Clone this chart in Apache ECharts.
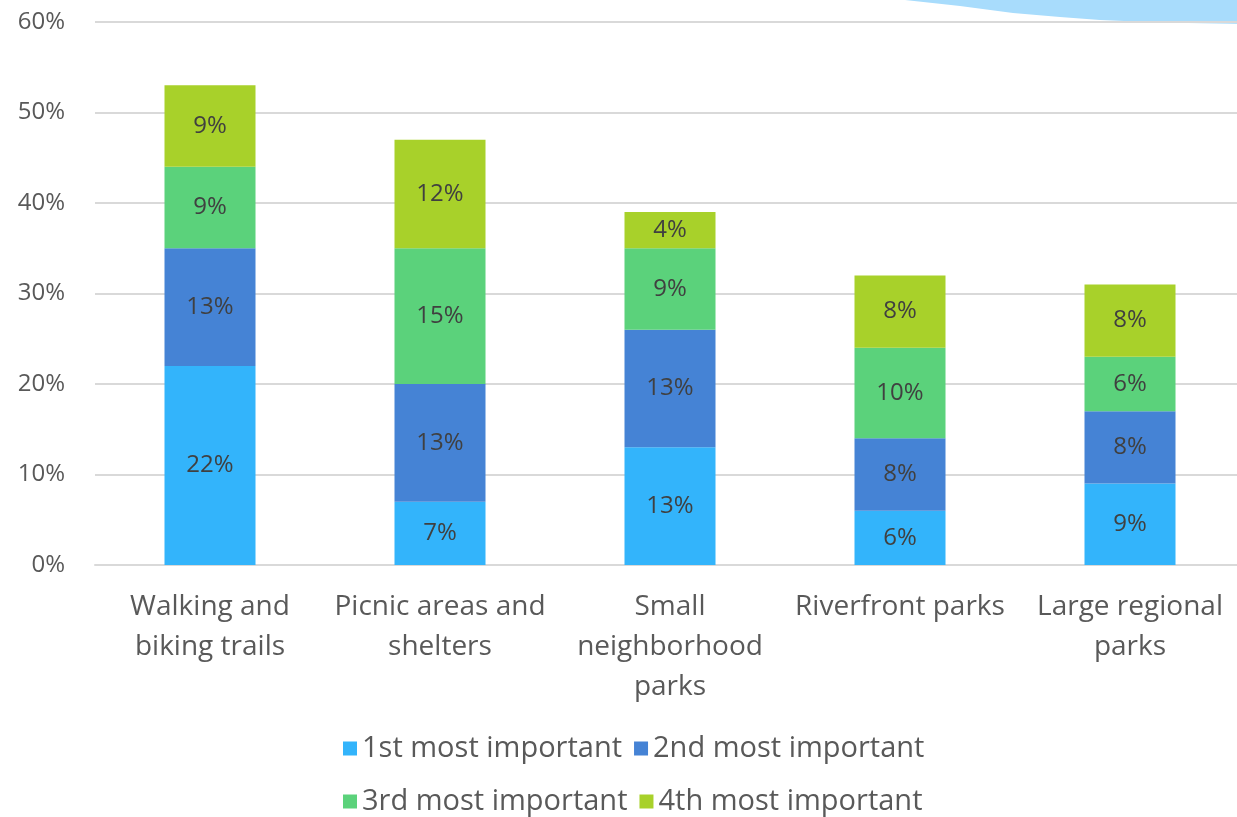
<!DOCTYPE html>
<html>
<head>
<meta charset="utf-8">
<script src="https://cdn.jsdelivr.net/npm/echarts@6/dist/echarts.min.js"></script>
<style>
  html, body { margin: 0; padding: 0; background: #ffffff; overflow: hidden; }
  /* the plot runs slightly past the right edge of the slide */
  #chart { width: 1245px; height: 817px; }
</style>
</head>
<body>
<div id="chart"></div>
<script>
// Park amenity priorities, share of respondents (%)
const categories = [
  'Walking and\nbiking trails',
  'Picnic areas and\nshelters',
  'Small\nneighborhood\nparks',
  'Riverfront parks',
  'Large regional\nparks'
];
const seriesNames = ['1st most important', '2nd most important', '3rd most important', '4th most important'];
const first  = [22, 7, 13, 6, 9];
const second = [13, 13, 13, 8, 8];
const third  = [9, 15, 9, 10, 6];
const fourth = [9, 12, 4, 8, 8];
const yTicks = [0, 10, 20, 30, 40, 50, 60];

const colors = ['#33b4fb', '#4583d5', '#5bd27b', '#a8d12a'];
const fontFamily = '"Open Sans", "Noto Sans", sans-serif';

const values = [first, second, third, fourth];

const chart = echarts.init(document.getElementById('chart'), null, { renderer: 'canvas' });

chart.setOption({
  animation: false,
  backgroundColor: '#ffffff',
  textStyle: { fontFamily: fontFamily },
  grid: { left: 95, top: 22, right: 0, bottom: 252, containLabel: false },
  legend: {
    data: seriesNames,
    left: 338,
    top: 723,
    width: 640,
    itemWidth: 14,
    itemHeight: 14,
    itemGap: 12,
    icon: 'rect',
    textStyle: { fontSize: 29, color: '#595959', fontFamily: fontFamily, lineHeight: 41 }
  },
  xAxis: {
    type: 'category',
    data: categories,
    axisLine: { show: true, lineStyle: { color: '#d9d9d9', width: 2 } },
    axisTick: { show: false },
    axisLabel: {
      interval: 0,
      margin: 22,
      fontSize: 28,
      lineHeight: 40,
      color: '#595959',
      fontFamily: fontFamily
    }
  },
  yAxis: {
    type: 'value',
    min: yTicks[0],
    max: yTicks[yTicks.length - 1],
    interval: 10,
    axisLine: { show: false },
    axisTick: { show: false },
    axisLabel: {
      formatter: v => v + '%',
      margin: 30,
      fontSize: 24,
      color: '#595959',
      fontFamily: fontFamily
    },
    splitLine: { lineStyle: { color: '#d9d9d9', width: 2 } }
  },
  graphic: [
    {
      // decorative swoosh in the top-right corner of the slide
      type: 'polygon',
      z: 0,
      shape: {
        points: [[905, 0], [960, 6], [1013, 13], [1060, 17], [1100, 20], [1160, 22.5], [1245, 24], [1245, 0]]
      },
      style: { fill: '#a8dcfc' }
    }
  ],
  series: seriesNames.map((name, i) => ({
    name: name,
    type: 'bar',
    stack: 'total',
    barWidth: 91,
    data: values[i],
    itemStyle: { color: colors[i] },
    label: {
      show: true,
      position: 'inside',
      formatter: p => p.value + '%',
      fontSize: 24,
      color: '#404040',
      fontFamily: fontFamily
    },
    z: 2
  }))
});
</script>
</body>
</html>
